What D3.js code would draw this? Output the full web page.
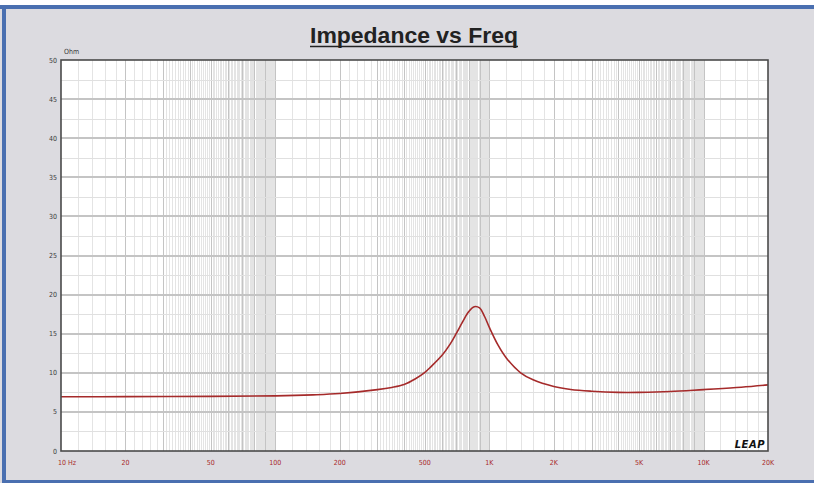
<!DOCTYPE html>
<html>
<head>
<meta charset="utf-8">
<title>Impedance vs Freq</title>
<style>
  body { margin: 0; background: #dcdbe0; }
  svg { display: block; }
  .ylab { font-family: 'DejaVu Sans Condensed', 'DejaVu Sans', sans-serif; font-size: 7px; fill: #3a3a3a; }
  .xlab { font-family: 'DejaVu Sans Condensed', 'DejaVu Sans', sans-serif; font-size: 7px; fill: #a82828; }
</style>
</head>
<body>
<svg width="814" height="485"></svg>
<script src="https://d3js.org/d3.v7.min.js"></script>
<script>
// impedance curve (Hz, ohm)
let freqs = [10, 20, 50, 100, 150, 200, 300, 350, 400, 450, 500, 530, 600, 657, 700, 750, 800, 850, 900, 950, 1000, 1100, 1200, 1400, 1600, 2000, 2400, 3000, 4000, 5000, 7000, 10000, 15000, 20000];
let ohms  = [6.93, 6.95, 6.98, 7.05, 7.18, 7.35, 7.85, 8.13, 8.5, 9.2, 10.05, 10.7, 12.2, 13.7, 15.0, 16.5, 17.8, 18.45, 18.3, 17.2, 15.8, 13.5, 11.9, 10.0, 9.1, 8.25, 7.87, 7.65, 7.5, 7.5, 7.6, 7.85, 8.15, 8.45];

let xTicks = [10, 20, 50, 100, 200, 500, 1000, 2000, 5000, 10000, 20000];
let xTickLabels = ["10", "20", "50", "100", "200", "500", "1K", "2K", "5K", "10K", "20K"];
let yTicks = [0, 5, 10, 15, 20, 25, 30, 35, 40, 45, 50];

let svg = d3.select("svg");
let width = 814, height = 485;
let plot = { left: 61, right: 768, top: 60, bottom: 451 };

let x = d3.scaleLog().domain([10, 20000]).range([plot.left, plot.right]);
let y = d3.scaleLinear().domain([0, 50]).range([plot.bottom, plot.top]);

// window frame: white strip, blue borders
svg.append("rect").attr("x", 0).attr("y", 0).attr("width", width).attr("height", 5).attr("fill", "#ffffff");
svg.append("rect").attr("x", 0).attr("y", 5).attr("width", width).attr("height", 4).attr("fill", "#4a6fb0");
svg.append("rect").attr("x", 2).attr("y", 5).attr("width", 4).attr("height", 478).attr("fill", "#4a6fb0");
svg.append("rect").attr("x", 2).attr("y", 480).attr("width", width).attr("height", 3).attr("fill", "#4a6fb0");
svg.append("rect").attr("x", 0).attr("y", 483).attr("width", width).attr("height", 2).attr("fill", "#ffffff");

// title, underlined
svg.append("text")
    .attr("x", 310).attr("y", 43)
    .attr("textLength", 208)
    .attr("lengthAdjust", "spacingAndGlyphs")
    .style("font-family", "'Liberation Sans', Arial, sans-serif")
    .style("font-weight", "bold")
    .style("font-size", "22px")
    .style("fill", "#222")
    .text("Impedance vs Freq");
svg.append("line")
    .attr("x1", 310).attr("x2", 518).attr("y1", 46.5).attr("y2", 46.5)
    .attr("stroke", "#222").attr("stroke-width", 1.6);

// plot background
svg.append("rect")
    .attr("x", plot.left).attr("y", plot.top)
    .attr("width", plot.right - plot.left).attr("height", plot.bottom - plot.top)
    .attr("fill", "#ffffff");

// vertical grid: digits of each decade and finer steps
let minorX = [], majorX = [];
for (let dec = 10; dec < 20000; dec *= 10) {
    for (let m = 1; m < 10; m++) {
        let f = m * dec;
        if (f > 10 && f < 20000) majorX.push(f);
        let step = m < 3 ? 0.2 : 0.1;
        for (let s = m + step; s < m + 1 - 1e-6; s += step) {
            let g = s * dec;
            if (g < 20000) minorX.push(g);
        }
    }
}

let grid = svg.append("g").attr("shape-rendering", "crispEdges");
grid.selectAll(".minx").data(minorX).join("line")
    .attr("x1", d => Math.round(x(d)) + 0.5).attr("x2", d => Math.round(x(d)) + 0.5)
    .attr("y1", plot.top).attr("y2", plot.bottom)
    .attr("stroke", "#e4e4e4").attr("stroke-width", 1);
grid.selectAll(".majx").data(majorX).join("line")
    .attr("x1", d => Math.round(x(d)) + 0.5).attr("x2", d => Math.round(x(d)) + 0.5)
    .attr("y1", plot.top).attr("y2", plot.bottom)
    .attr("stroke", "#c4c4c4").attr("stroke-width", 1);

// horizontal grid
let minorY = d3.range(2.5, 50, 5);
grid.selectAll(".miny").data(minorY).join("line")
    .attr("x1", plot.left).attr("x2", plot.right)
    .attr("y1", d => Math.round(y(d)) + 0.5).attr("y2", d => Math.round(y(d)) + 0.5)
    .attr("stroke", "#e0e0e0").attr("stroke-width", 1);
grid.selectAll(".majy").data(yTicks.filter(d => d > 0 && d < 50)).join("line")
    .attr("x1", plot.left).attr("x2", plot.right)
    .attr("y1", d => Math.round(y(d))).attr("y2", d => Math.round(y(d)))
    .attr("stroke", "#c4c4c4").attr("stroke-width", 2);

// impedance curve
let data = freqs.map((f, i) => ({ f: f, z: ohms[i] }));
let line = d3.line()
    .x(d => x(d.f))
    .y(d => y(d.z))
    .curve(d3.curveCatmullRom.alpha(0.5));
svg.append("path")
    .datum(data)
    .attr("d", line)
    .attr("fill", "none")
    .attr("stroke", "#a52a2a")
    .attr("stroke-width", 1.6);

// plot frame
svg.append("rect")
    .attr("x", plot.left).attr("y", plot.top)
    .attr("width", plot.right - plot.left).attr("height", plot.bottom - plot.top)
    .attr("fill", "none").attr("stroke", "#4a4a4a").attr("stroke-width", 1.6);

// y labels
svg.selectAll(".ylab").data(yTicks).join("text")
    .attr("class", "ylab")
    .attr("x", plot.left - 4)
    .attr("y", d => y(d) + 2.5)
    .attr("text-anchor", "end")
    .text(d => d);
svg.append("text").attr("class", "ylab")
    .attr("x", 64).attr("y", 54).text("Ohm");

// x labels
svg.selectAll(".xlab").data(xTicks).join("text")
    .attr("class", "xlab")
    .attr("x", d => x(d))
    .attr("y", 465)
    .attr("text-anchor", (d, i) => i === 0 ? "start" : "middle")
    .attr("dx", (d, i) => i === 0 ? -3 : 0)
    .text((d, i) => i === 0 ? xTickLabels[i] + "  Hz" : xTickLabels[i]);

// LEAP logo
svg.append("text")
    .attr("x", 765).attr("y", 447.5)
    .attr("text-anchor", "end")
    .style("font-family", "'DejaVu Sans', sans-serif")
    .style("font-weight", "bold")
    .style("font-style", "italic")
    .style("font-size", "10px")
    .style("letter-spacing", "0.5px")
    .style("fill", "#111")
    .text("LEAP");
</script>
</body>
</html>
